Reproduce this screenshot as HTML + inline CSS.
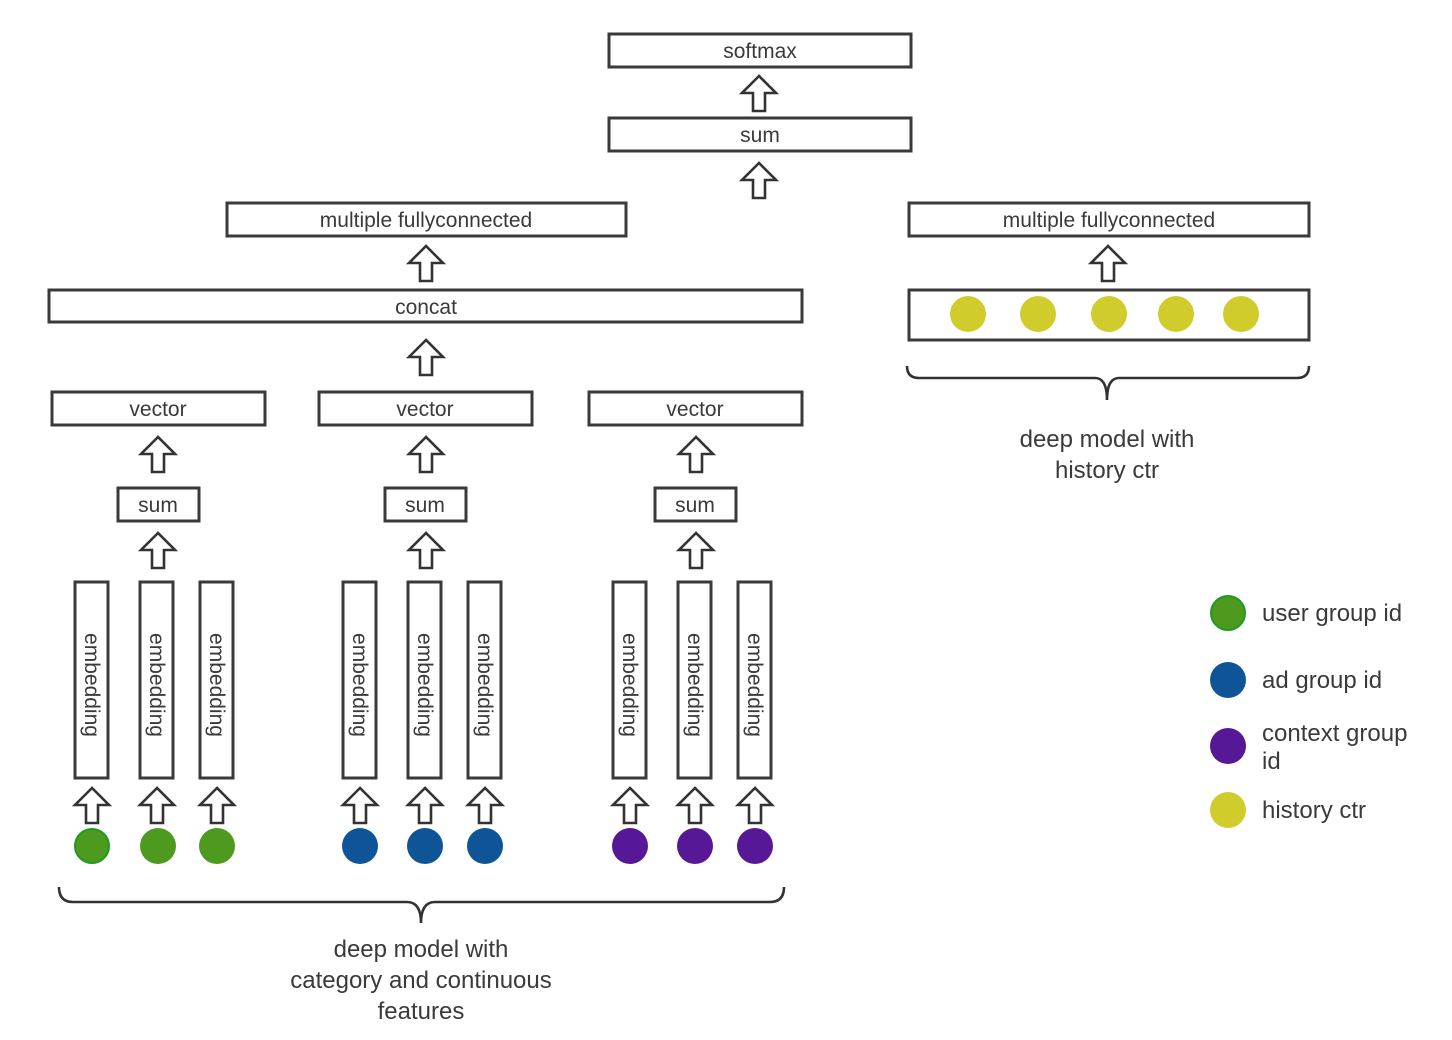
<!DOCTYPE html>
<html><head><meta charset="utf-8"><style>
html,body{margin:0;padding:0;background:#fff;}
svg{display:block;}
text{font-family:"Liberation Sans",sans-serif;fill:#3a3a3a;}
</style></head><body>
<svg width="1452" height="1040" viewBox="0 0 1452 1040" xmlns="http://www.w3.org/2000/svg">
<defs>
<path id="ar" d="M0,0 L-17,17 L-6,17 L-6,35 L6,35 L6,17 L17,17 Z" fill="#fff" stroke="#333" stroke-width="2.6" stroke-linejoin="miter"/>
</defs>
<g fill="#fff" stroke="#3a3a3a" stroke-width="3">
<rect x="609" y="34" width="302" height="33"/>
<rect x="609" y="118" width="302" height="33"/>
<rect x="227" y="203" width="399" height="33"/>
<rect x="909" y="203" width="400" height="33"/>
<rect x="49" y="290" width="753" height="32"/>
<rect x="909" y="290" width="400" height="50"/>
<rect x="52" y="392" width="213" height="33"/>
<rect x="319" y="392" width="213" height="33"/>
<rect x="589" y="392" width="213" height="33"/>
<rect x="118" y="488" width="81" height="33"/>
<rect x="385" y="488" width="81" height="33"/>
<rect x="655" y="488" width="81" height="33"/>
<rect x="75" y="582" width="33" height="196"/>
<rect x="140" y="582" width="33" height="196"/>
<rect x="200" y="582" width="33" height="196"/>
<rect x="343" y="582" width="33" height="196"/>
<rect x="408" y="582" width="33" height="196"/>
<rect x="468" y="582" width="33" height="196"/>
<rect x="613" y="582" width="33" height="196"/>
<rect x="678" y="582" width="33" height="196"/>
<rect x="738" y="582" width="33" height="196"/>
</g>
<g font-size="21" text-anchor="middle">
<text x="760" y="58">softmax</text>
<text x="760" y="142">sum</text>
<text x="426" y="227">multiple fullyconnected</text>
<text x="1109" y="227">multiple fullyconnected</text>
<text x="426" y="314">concat</text>
<text x="158" y="416">vector</text>
<text x="425" y="416">vector</text>
<text x="695" y="416">vector</text>
<text x="158" y="512">sum</text>
<text x="425" y="512">sum</text>
<text x="695" y="512">sum</text>
</g>
<g font-size="21" text-anchor="middle">
<text transform="translate(85,685) rotate(90)">embedding</text>
<text transform="translate(150,685) rotate(90)">embedding</text>
<text transform="translate(210,685) rotate(90)">embedding</text>
<text transform="translate(353,685) rotate(90)">embedding</text>
<text transform="translate(418,685) rotate(90)">embedding</text>
<text transform="translate(478,685) rotate(90)">embedding</text>
<text transform="translate(623,685) rotate(90)">embedding</text>
<text transform="translate(688,685) rotate(90)">embedding</text>
<text transform="translate(748,685) rotate(90)">embedding</text>
</g>
<use href="#ar" x="759" y="76"/>
<use href="#ar" x="759" y="163"/>
<use href="#ar" x="426" y="246"/>
<use href="#ar" x="1108" y="246"/>
<use href="#ar" x="426" y="340"/>
<use href="#ar" x="158" y="437"/>
<use href="#ar" x="426" y="437"/>
<use href="#ar" x="696" y="437"/>
<use href="#ar" x="158" y="533"/>
<use href="#ar" x="426" y="533"/>
<use href="#ar" x="696" y="533"/>
<use href="#ar" x="92" y="788"/>
<use href="#ar" x="157" y="788"/>
<use href="#ar" x="217" y="788"/>
<use href="#ar" x="360" y="788"/>
<use href="#ar" x="425" y="788"/>
<use href="#ar" x="485" y="788"/>
<use href="#ar" x="630" y="788"/>
<use href="#ar" x="695" y="788"/>
<use href="#ar" x="755" y="788"/>
<g fill="#cfcc2c">
<circle cx="968" cy="314" r="18"/><circle cx="1038" cy="314" r="18"/><circle cx="1109" cy="314" r="18"/><circle cx="1176" cy="314" r="18"/><circle cx="1241" cy="314" r="18"/>
</g>
<circle cx="92" cy="846" r="17" fill="#4e9a1e" stroke="#1f9a22" stroke-width="2"/>
<circle cx="158" cy="846" r="18" fill="#4e9a1e"/>
<circle cx="217" cy="846" r="18" fill="#4e9a1e"/>
<g fill="#0e5496"><circle cx="360" cy="846" r="18"/><circle cx="425" cy="846" r="18"/><circle cx="485" cy="846" r="18"/></g>
<g fill="#561896"><circle cx="630" cy="846" r="18"/><circle cx="695" cy="846" r="18"/><circle cx="755" cy="846" r="18"/></g>
<g fill="none" stroke="#333" stroke-width="2.6">
<path d="M907,366 Q907,378 919,378 L1095,378 Q1107,378 1107,400 Q1107,378 1119,378 L1297,378 Q1309,378 1309,366"/>
<path d="M59,887 Q59,902 73,902 L407,902 Q421,902 421,923 Q421,902 435,902 L770,902 Q784,902 784,887"/>
</g>
<g font-size="24" text-anchor="middle">
<text x="1107" y="447">deep model with</text>
<text x="1107" y="478">history ctr</text>
<text x="421" y="957">deep model with</text>
<text x="421" y="988">category and continuous</text>
<text x="421" y="1019">features</text>
</g>
<circle cx="1228" cy="613" r="17" fill="#4e9a1e" stroke="#1f9a22" stroke-width="2"/>
<circle cx="1228" cy="680" r="18" fill="#0e5496"/>
<circle cx="1228" cy="746" r="18" fill="#561896"/>
<circle cx="1228" cy="810" r="18" fill="#cfcc2c"/>
<g font-size="24">
<text x="1262" y="621">user group id</text>
<text x="1262" y="688">ad group id</text>
<text x="1262" y="741">context group</text>
<text x="1262" y="769">id</text>
<text x="1262" y="818">history ctr</text>
</g>
</svg>
</body></html>
